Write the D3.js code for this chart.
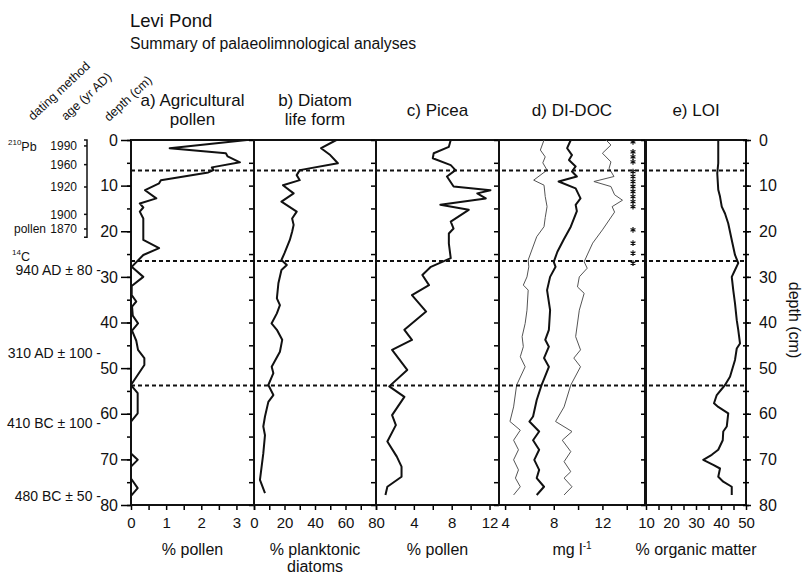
<!DOCTYPE html>
<html>
<head>
<meta charset="utf-8">
<script src="https://cdn.jsdelivr.net/npm/d3@7"></script>
<style>
body { margin: 0; background: #fff; }
text { font-family: Arial, "Liberation Sans", sans-serif; fill: #111; }
</style>
</head>
<body>
<div id="main"></div>
<script>
// values, depth in cm
var aggDepth = [0, 1.8, 2.9, 3.6, 4.9, 6.0, 6.6, 7.1, 8.8, 9.5, 11.0, 12.8, 13.9, 14.8, 15.7, 17.2, 21.9, 23.7, 25.2, 27.8,
  30.0, 32.0, 34.0, 35.4, 36.5, 38.5, 40.2, 41.8, 44.0, 46.0, 47.8, 49.3, 53.7, 55.5, 59.9, 61.7, 68.7, 70.1, 71.6, 74.2, 76.3, 78.0];
var aggPollen = [3.3, 1.1, 2.7, 2.75, 3.1, 2.3, 2.35, 2.2, 0.85, 0.8, 0.4, 0.72, 0.25, 0.35, 0.25, 0.35, 0.35, 0.8, 0.35, 0.02,
  0.35, 0.02, 0.02, 0.15, 0.03, 0.05, 0.2, 0.03, 0.15, 0.2, 0.38, 0.38, 0.0, 0.19, 0.19, 0.0, 0.0, 0.19, 0.0, 0.0, 0.19, 0.0];

var diatomDepth = [0, 1.8, 3.3, 5.1, 6.6, 7.7, 8.8, 9.9, 11.7, 13.5, 15.7, 17.2, 18.6, 20.1, 21.9, 24.8, 26.3, 27.4, 28.5,
  31.4, 34.7, 36.2, 38.0, 40.2, 41.6, 43.8, 46.4, 49.7, 51.1, 53.7, 55.9, 57.4, 60.6, 62.8, 64.7, 68.7, 74.5, 77.4];
var planktonic = [54, 44, 50, 55, 30, 28, 30, 19, 26, 18, 28, 25, 26, 25, 23.5, 20, 18, 21.5, 18,
  16, 15, 17, 15, 11.5, 15, 18.5, 17, 11.6, 12.7, 9.4, 12.7, 9.4, 7.2, 6.1, 7.2, 6.1, 3.9, 7.2];

var piceaDepth = [0, 1.5, 2.9, 4.0, 5.5, 6.6, 8.0, 10.2, 11.0, 11.7, 12.8, 14.2, 15.3, 17.9, 19.4, 20.5, 22.7, 25.9, 27.8,
  29.6, 31.8, 34.0, 37.6, 41.6, 43.8, 46.0, 50.4, 54.0, 56.3, 60.3, 62.5, 66.1, 69.4, 71.6, 73.8, 76.0, 77.8];
var picea = [7.9, 7.7, 6.1, 6.0, 7.9, 8.4, 7.5, 8.2, 12.1, 10.7, 11.6, 6.8, 9.8, 7.9, 8.2, 7.7, 7.7, 7.9, 5.8,
  4.9, 5.6, 3.8, 5.3, 3.0, 3.8, 1.7, 3.3, 1.4, 3.0, 1.7, 2.1, 1.2, 2.2, 2.7, 2.7, 1.2, 1.0];

var docDepth = [0, 1.8, 3.3, 4.4, 5.8, 6.9, 8.0, 9.1, 10.6, 12.8, 14.2, 15.6, 19.0, 21.9, 24.5, 26.7, 27.8, 30.0, 32.9,
  37.3, 41.6, 43.8, 45.3, 47.8, 49.7, 53.7, 57.0, 60.6, 61.7, 63.9, 65.8, 67.9, 70.1, 72.3, 74.1, 76.0, 77.8];
var doc = [9.4, 9.1, 9.5, 9.25, 9.8, 9.5, 9.9, 8.4, 9.8, 10.2, 9.8, 9.9, 9.4, 8.8, 8.3, 8.0, 8.15, 7.7, 7.45,
  7.7, 7.6, 7.3, 7.6, 7.2, 7.6, 7.0, 6.6, 6.3, 6.0, 6.8, 6.3, 6.8, 6.4, 6.8, 6.6, 7.2, 6.6];
var docLowDepth = [0, 2.2, 3.7, 5.0, 6.6, 8.8, 9.9, 12.4, 14.6, 17.0, 19.0, 21.2, 24.1, 26.3, 27.8, 30.0, 31.8, 32.9,
  37.3, 40.2, 43.1, 45.3, 47.5, 49.7, 53.7, 58.5, 61.7, 63.6, 65.8, 67.9, 70.1, 72.3, 74.1, 76.0, 77.8];
var docLow = [7.2, 6.9, 7.3, 7.1, 7.45, 6.35, 7.2, 7.3, 7.45, 7.3, 7.2, 6.6, 6.2, 5.9, 5.95, 5.8, 5.5, 5.9,
  5.8, 5.65, 5.4, 5.5, 5.25, 5.65, 4.95, 4.7, 4.4, 5.25, 4.7, 5.1, 4.7, 5.1, 4.85, 5.25, 4.7];
var docHighDepth = [0, 1.1, 2.9, 4.8, 6.2, 8.0, 9.1, 10.2, 12.0, 13.2, 14.6, 15.8, 19.7, 22.6, 25.2, 26.7, 28.1, 30.0,
  32.2, 33.6, 37.3, 43.1, 46.0, 47.8, 49.7, 53.7, 58.5, 61.7, 63.9, 65.8, 68.3, 70.5, 72.7, 74.1, 76.0, 77.8];
var docHigh = [12.3, 12.7, 12.0, 12.7, 12.55, 12.95, 11.3, 12.7, 13.0, 13.65, 12.8, 13.0, 12.0, 11.2, 10.75, 10.5, 10.75, 10.1,
  9.95, 10.5, 10.1, 9.8, 10.2, 9.65, 10.2, 9.4, 8.85, 8.15, 9.5, 8.7, 9.4, 8.85, 9.4, 8.85, 9.5, 8.85];

var loiDepth = [0, 5.1, 7.3, 10.9, 12.4, 14.6, 16.1, 18.3, 21.9, 25.2, 27.0, 28.5, 30.0, 32.9, 35.8, 39.5, 41.6, 44.6,
  45.7, 48.2, 51.9, 53.7, 55.9, 57.7, 58.5, 59.9, 62.8, 63.9, 65.8, 67.9, 69.0, 70.1, 71.2, 72.0, 73.8, 74.9, 76.0, 77.8];
var loi = [38.9, 38.9, 38.5, 38.9, 39.6, 40.3, 41.6, 42.9, 44.3, 45.6, 46.9, 45.6, 44.3, 44.9, 45.6, 46.3, 46.9, 47.6,
  46.3, 45.6, 43.6, 41.6, 38.3, 37.2, 38.9, 42.9, 42.3, 40.9, 40.7, 38.9, 36.3, 32.9, 36.9, 39.6, 38.9, 40.9, 44.3, 44.3];

// samples flagged with an asterisk in the DI-DOC panel
var starDepths = [0.4, 2.6, 3.7, 4.8, 6.9, 8.0, 9.1, 10.2, 11.3, 12.4, 13.5, 14.6, 19.7, 22.6, 24.8, 27.0];

// zone boundaries (dashed)
var zoneDepths = [6.7, 26.5, 53.8];

// dating column
var ageLabels = ["1990", "1960", "1920", "1900", "1870"];
var ageDepths = [1.3, 5.4, 10.3, 16.3, 19.5];
var c14Labels = ["940 AD \u00b1 80 -", "310 AD \u00b1 100 -", "410 BC \u00b1 100 -", "480 BC \u00b1 50 -"];
var c14Depths = [28.6, 46.7, 62.0, 78.1];

var depthTicks = d3.range(0, 81, 5);

// utils
function transform(x, y) {
  return "translate(" + x + "," + y + ")";
}
function zip(a, b) {
  return a.map(function(d, i) { return [d, b[i]]; });
}

var svg = d3.select('#main').append('svg')
  .attr('width', 803).attr('height', 578);

var y = d3.scaleLinear().domain([0, 80]).range([140, 505]);

var panels = [
  { title: ["a) Agricultural", "pollen"], axis: ["% pollen"],
    x: d3.scaleLinear().domain([0, 3.5]).range([131, 254]),
    ticks: d3.range(0, 3.51, 0.5), labels: [0, 1, 2, 3],
    series: [{ d: aggDepth, v: aggPollen }] },
  { title: ["b) Diatom", "life form"], axis: ["% planktonic", "diatoms"],
    x: d3.scaleLinear().domain([0, 80]).range([254, 376]),
    ticks: d3.range(0, 81, 10), labels: [0, 20, 40, 60, 80],
    series: [{ d: diatomDepth, v: planktonic }] },
  { title: ["c) Picea"], axis: ["% pollen"],
    x: d3.scaleLinear().domain([0, 13]).range([376, 499]),
    ticks: d3.range(0, 13, 2), labels: [4, 8, 12],
    series: [{ d: piceaDepth, v: picea }] },
  { title: ["d) DI-DOC"], axis: ["mg l"],
    x: d3.scaleLinear().domain([3.5, 15.5]).range([499, 645]),
    ticks: d3.range(4, 15, 2), labels: [4, 8, 12],
    series: [{ d: docLowDepth, v: docLow, thin: true }, { d: docHighDepth, v: docHigh, thin: true }, { d: docDepth, v: doc }] },
  { title: ["e) LOI"], axis: ["% organic matter"],
    x: d3.scaleLinear().domain([10, 50]).range([646, 746]),
    ticks: d3.range(10, 51, 5), labels: [10, 20, 30, 40, 50],
    series: [{ d: loiDepth, v: loi }] }
];

// titles
svg.append('text').attr('x', 130).attr('y', 27).style('font-size', '18.5px').text('Levi Pond');
svg.append('text').attr('x', 130).attr('y', 49).style('font-size', '15.8px').text('Summary of palaeolimnological analyses');

// rotated column headers
[['dating method', 33, 121], ['age (yr AD)', 66, 121], ['depth (cm)', 109, 122]].forEach(function(h) {
  svg.append('text').attr('transform', transform(h[1], h[2]) + ' rotate(-43)')
    .style('font-size', '12.5px').text(h[0]);
});

panels.forEach(function(p, i) {
  var g = svg.append('g');
  var x0 = p.x.range()[0], x1 = p.x.range()[1];
  var cx = (x0 + x1) / 2;

  // depth ticks on the left edge of every panel
  g.append('g').attr('transform', transform(x0, 0))
    .call(d3.axisLeft(y).tickValues(depthTicks).tickSize(i == 0 ? 4 : 5).tickSizeOuter(0).tickFormat(''))
    .call(function(a) { a.select('.domain').remove(); a.selectAll('line').attr('stroke-width', 1.5); });

  // bottom axis
  g.append('g').attr('transform', transform(0, 505))
    .call(d3.axisBottom(p.x).tickValues(p.ticks).tickSize(5).tickPadding(7)
      .tickFormat(function(d) { return p.labels.indexOf(d) >= 0 ? d : ''; }))
    .call(function(a) {
      a.select('.domain').remove();
      a.selectAll('line').attr('stroke-width', 1.5);
      a.selectAll('text').style('font-size', '15px').attr('fill', '#111');
    });

  // frame
  g.append('rect').attr('x', x0).attr('y', y(0)).attr('width', x1 - x0).attr('height', y(80) - y(0))
    .attr('fill', 'none').attr('stroke', '#111').attr('stroke-width', 2);

  // the curves
  p.series.forEach(function(s) {
    g.append('path').datum(zip(s.d, s.v))
      .attr('fill', 'none')
      .attr('stroke', s.thin ? '#555' : '#111')
      .attr('stroke-width', s.thin ? 1 : 2)
      .attr('stroke-linejoin', 'round')
      .attr('d', d3.line().x(function(d) { return p.x(d[1]); }).y(function(d) { return y(d[0]); }));
  });

  // panel title
  var t = g.append('text').attr('text-anchor', 'middle').style('font-size', '17px');
  if (p.title.length == 2) {
    t.append('tspan').attr('x', cx).attr('y', 106).text(p.title[0]);
    t.append('tspan').attr('x', cx).attr('y', 125).text(p.title[1]);
  } else {
    t.attr('x', cx).attr('y', 116).text(p.title[0]);
  }

  // axis title
  var at = g.append('text').attr('text-anchor', 'middle').style('font-size', '16px');
  at.append('tspan').attr('x', cx).attr('y', 555).text(p.axis[0]);
  if (p.axis.length == 2) at.append('tspan').attr('x', cx).attr('y', 572).text(p.axis[1]);
  if (i == 3) at.append('tspan').attr('dy', -6).style('font-size', '10px').text('-1');
});

// labelled depth axis left and right
svg.append('g').attr('transform', transform(131, 0))
  .call(d3.axisLeft(y).tickValues(d3.range(0, 81, 10)).tickSize(10).tickPadding(3).tickSizeOuter(0))
  .call(function(a) {
    a.select('.domain').remove();
    a.selectAll('line').attr('stroke-width', 1.5);
    a.selectAll('text').style('font-size', '16px').attr('fill', '#111');
  });
svg.append('g').attr('transform', transform(746, 0))
  .call(d3.axisRight(y).tickValues(d3.range(0, 81, 10)).tickSize(5).tickPadding(8).tickSizeOuter(0))
  .call(function(a) {
    a.select('.domain').remove();
    a.selectAll('line').attr('stroke-width', 1.5);
    a.selectAll('text').style('font-size', '16px').attr('fill', '#111');
  });
svg.append('g').attr('transform', transform(749, 0))
  .call(d3.axisLeft(y).tickValues(depthTicks).tickSize(6).tickSizeOuter(0).tickFormat(''))
  .call(function(a) { a.select('.domain').remove(); a.selectAll('line').attr('stroke-width', 1.5); });
svg.append('text').attr('transform', transform(789, 320) + ' rotate(90)')
  .attr('text-anchor', 'middle').style('font-size', '16px').text('depth (cm)');

// zone boundaries
svg.selectAll('.zone').data(zoneDepths).enter().append('line')
  .attr('x1', 131).attr('x2', 746)
  .attr('y1', function(d) { return y(d); }).attr('y2', function(d) { return y(d); })
  .attr('stroke', '#111').attr('stroke-width', 2).attr('stroke-dasharray', '4,3');

// significance stars, drawn as symbols
var star = d3.symbol().type(d3.symbolAsterisk || d3.symbolCross).size(22);
svg.selectAll('.star').data(starDepths).enter().append('path')
  .attr('transform', function(d) { return transform(633, y(d)); })
  .attr('d', star).attr('fill', 'none').attr('stroke', '#111').attr('stroke-width', 1.2);

// dating column
var ages = svg.append('g');
ages.selectAll('text').data(ageLabels).enter().append('text')
  .attr('x', 77).attr('y', function(d, i) { return y(ageDepths[i]); }).attr('dy', '0.35em')
  .attr('text-anchor', 'end').style('font-size', '12px').text(function(d) { return d; });
ages.append('path')
  .attr('d', 'M84,' + y(0) + 'H87V' + y(21.3) + 'H84')
  .attr('fill', 'none').attr('stroke', '#111').attr('stroke-width', 1.5);
ages.selectAll('line').data(ageDepths).enter().append('line')
  .attr('x1', 84).attr('x2', 87)
  .attr('y1', function(d) { return y(d); }).attr('y2', function(d) { return y(d); })
  .attr('stroke', '#111').attr('stroke-width', 1.5);

var pb = ages.append('text').attr('x', 8).attr('y', y(1.3)).attr('dy', '0.35em').style('font-size', '12.5px');
pb.append('tspan').attr('dy', '-0.1em').style('font-size', '8px').text('210');
pb.append('tspan').attr('dy', '0.45em').text('Pb');
ages.append('text').attr('x', 14).attr('y', y(19.5)).attr('dy', '0.35em').style('font-size', '12px').text('pollen');
var c14 = ages.append('text').attr('x', 12).attr('y', y(25.4)).attr('dy', '0.35em').style('font-size', '12.5px');
c14.append('tspan').attr('dy', '-0.1em').style('font-size', '8px').text('14');
c14.append('tspan').attr('dy', '0.45em').text('C');

ages.selectAll('.c14').data(c14Labels).enter().append('text')
  .attr('x', 101).attr('y', function(d, i) { return y(c14Depths[i]); }).attr('dy', '0.35em')
  .attr('text-anchor', 'end').style('font-size', '14px').text(function(d) { return d; });
</script>
</body>
</html>
